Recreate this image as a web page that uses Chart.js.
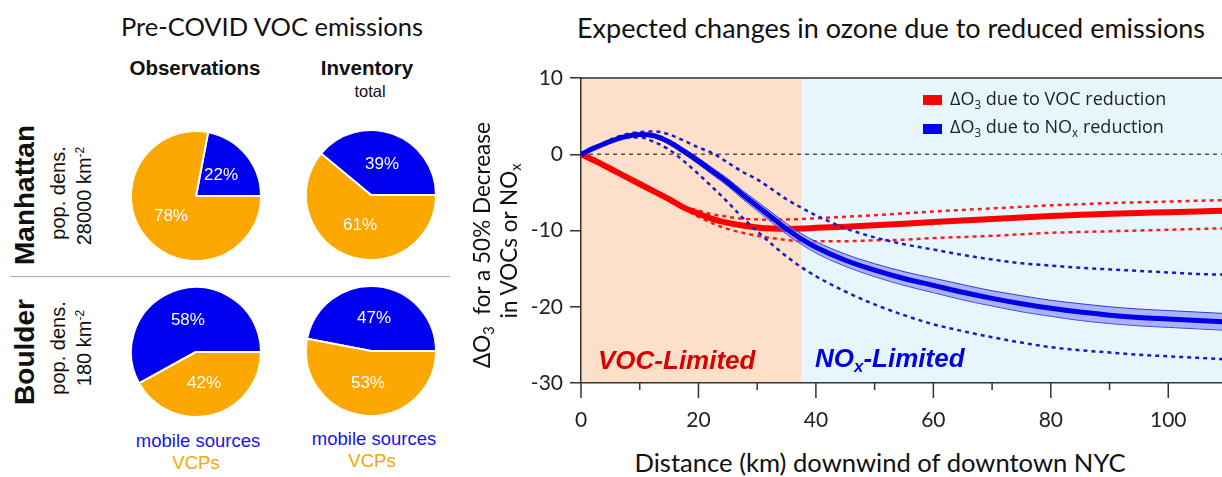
<!DOCTYPE html>
<html>
<head>
<meta charset="utf-8">
<script src="https://cdn.jsdelivr.net/npm/chart.js@4.4.1/dist/chart.umd.min.js"></script>
<style>
  body { margin: 0; width: 1222px; height: 477px; overflow: hidden; background: #fff; position: relative;
         font-family: "Liberation Sans", Arial, sans-serif; color: #111; }
  .t { position: absolute; white-space: nowrap; line-height: 1; transform: translate(-50%, -50%); }
  .r { position: absolute; white-space: nowrap; line-height: 1; transform: translate(-50%, -50%) rotate(-90deg); }
  .l { position: absolute; white-space: nowrap; line-height: 1; transform: translateY(-50%); }
  .title { font-family: Lato, sans-serif; color: #111; }
  canvas { position: absolute; }
  sub { font-size: 65%; vertical-align: -0.3em; }
  sup { font-size: 60%; vertical-align: 0.6em; }
</style>
</head>
<body>

<div class="t title" style="left:272px; top:27px; font-size:25.5px;">Pre-COVID VOC emissions</div>
<div class="t title" style="left:891px; top:27px; font-size:27px;">Expected changes in ozone due to reduced emissions</div>

<div class="t" style="left:195px; top:68px; font-weight:bold; font-size:20.5px;">Observations</div>
<div class="t" style="left:367px; top:68px; font-weight:bold; font-size:20.5px;">Inventory</div>
<div class="t" style="left:370px; top:91px; font-size:16.5px;">total</div>

<div class="r" style="left:25px; top:195px; font-weight:bold; font-size:28px;">Manhattan</div>
<div class="r" style="left:58px; top:193px; font-size:20px;">pop. dens.</div>
<div class="r" style="left:84px; top:196px; font-size:20px;">28000 km<sup>-2</sup></div>
<div class="r" style="left:25px; top:352px; font-weight:bold; font-size:28px;">Boulder</div>
<div class="r" style="left:58px; top:348px; font-size:20px;">pop. dens.</div>
<div class="r" style="left:84px; top:348px; font-size:20px;">180 km<sup>-2</sup></div>

<div style="position:absolute; left:10px; top:276px; width:440px; border-top:1.5px solid #aaa;"></div>

<div class="t" style="left:198px; top:441px; font-size:18.5px; color:#1414f0;">mobile sources</div>
<div class="t" style="left:196px; top:463px; font-size:18.5px; color:#f5a800;">VCPs</div>
<div class="t" style="left:374px; top:439px; font-size:18.5px; color:#1414f0;">mobile sources</div>
<div class="t" style="left:372px; top:461px; font-size:18.5px; color:#f5a800;">VCPs</div>

<canvas id="pie0" width="132" height="132" style="left:130px; top:130px;"></canvas>
<canvas id="pie1" width="132" height="132" style="left:305px; top:129px;"></canvas>
<canvas id="pie2" width="132" height="132" style="left:130px; top:286px;"></canvas>
<canvas id="pie3" width="132" height="132" style="left:305px; top:285px;"></canvas>

<canvas id="ozone" width="757" height="373" style="left:470px; top:60px;"></canvas>

<div class="r" style="left:484px; top:245px; font-family:Lato, sans-serif; font-size:22.5px;">&Delta;O<sub>3</sub> &nbsp;for a 50% Decrease</div>
<div class="r" style="left:511px; top:241px; font-family:Lato, sans-serif; font-size:22.5px;">in VOCs or NO<sub>x</sub></div>
<div class="t" style="left:880px; top:463px; font-family:Lato, sans-serif; font-size:25.6px;">Distance (km) downwind of downtown NYC</div>

<div style="position:absolute; left:923px; top:95px; width:19px; height:10px; background:#ff0000;"></div>
<div class="l" style="left:950px; top:100px; font-family:'Open Sans', sans-serif; font-size:18px; color:#222;">&Delta;O<sub>3</sub> due to VOC reduction</div>
<div style="position:absolute; left:923px; top:124px; width:19px; height:10px; background:#0000f0;"></div>
<div class="l" style="left:950px; top:128px; font-family:'Open Sans', sans-serif; font-size:18px; color:#222;">&Delta;O<sub>3</sub> due to NO<sub>x</sub> reduction</div>

<div class="l" style="left:598px; top:360px; font-weight:bold; font-style:italic; font-size:26px; color:#d80000;">VOC-Limited</div>
<div class="l" style="left:815px; top:360px; font-weight:bold; font-style:italic; font-size:26px; color:#0000e0;">NO<sub>x</sub>-Limited</div>

<script>
// pie panels: Manhattan obs, Manhattan inventory, Boulder obs, Boulder inventory
const PIE_LABELS = ['mobile sources', 'VCPs'];
const MOBILE_PCT = [22, 39, 58, 47];
const VCP_PCT = [78, 61, 42, 53];

// ozone response vs distance downwind (km)
const DIST = [0, 2.5, 5, 7.5, 10, 12.5, 15, 17.5, 20, 22.5, 25, 27.5, 30, 32.5, 35, 37.5,
              40, 45, 50, 55, 60, 65, 70, 75, 80, 85, 90, 95, 100, 105, 110];
const VOC_MID = [0, -0.9, -1.9, -2.9, -3.9, -4.9, -5.9, -7.0, -7.8, -8.5, -9.0, -9.35, -9.6, -9.75, -9.8, -9.75,
                 -9.65, -9.5, -9.3, -9.1, -8.9, -8.7, -8.5, -8.3, -8.1, -7.95, -7.8, -7.7, -7.6, -7.5, -7.4];
const VOC_HIGH = [null, null, null, null, null, null, -5.9, -6.8, -7.4, -7.9, -8.2, -8.45, -8.55, -8.6, -8.55, -8.5,
                  -8.4, -8.2, -8.0, -7.75, -7.5, -7.3, -7.1, -6.9, -6.7, -6.55, -6.4, -6.3, -6.2, -6.1, -6.0];
const VOC_LOW = [null, null, null, null, null, null, -5.9, -7.1, -8.2, -9.1, -9.8, -10.3, -10.7, -11.0, -11.25, -11.4,
                 -11.4, -11.4, -11.3, -11.2, -11.0, -10.85, -10.7, -10.5, -10.3, -10.2, -10.1, -10.0, -9.9, -9.8, -9.7];
const NOX_MID = [0, 0.9, 1.7, 2.3, 2.6, 2.4, 1.6, 0.4, -0.9, -2.3, -3.7, -5.3, -6.8, -8.3, -9.8, -11.1,
                 -12.2, -13.9, -15.2, -16.3, -17.2, -18.1, -18.9, -19.6, -20.2, -20.7, -21.1, -21.4, -21.6, -21.8, -22.0];
const NOX_BAND_HI = [0, 0.95, 1.8, 2.45, 2.8, 2.65, 1.9, 0.75, -0.5, -1.85, -3.2, -4.75, -6.2, -7.65, -9.1, -10.4,
                     -11.45, -13.1, -14.35, -15.4, -16.25, -17.1, -17.9, -18.55, -19.15, -19.6, -20.0, -20.3, -20.5, -20.7, -20.9];
const NOX_BAND_LO = [0, 0.85, 1.6, 2.15, 2.4, 2.15, 1.3, 0.05, -1.3, -2.75, -4.2, -5.85, -7.4, -8.95, -10.5, -11.8,
                     -12.95, -14.7, -16.05, -17.2, -18.15, -19.1, -19.9, -20.65, -21.25, -21.8, -22.2, -22.5, -22.7, -22.9, -23.1];
const NOX_HIGH = [0, 1.0, 1.9, 2.6, 2.9, 3.0, 2.6, 1.8, 0.9, 0.1, -1.1, -2.3, -3.3, -4.6, -5.9, -7.0,
                  -8.0, -9.7, -10.9, -11.8, -12.5, -13.2, -13.8, -14.3, -14.6, -14.9, -15.1, -15.3, -15.5, -15.7, -15.8];
const NOX_LOW = [0, 0.9, 1.6, 2.2, 2.2, 1.6, 0.6, -0.9, -2.6, -4.4, -6.3, -8.3, -10.1, -11.8, -13.4, -14.8,
                 -16.0, -18.0, -19.7, -21.1, -22.3, -23.2, -24.0, -24.7, -25.3, -25.7, -26.0, -26.3, -26.5, -26.7, -26.9];
const REGIME_SPLIT = 37.6; // km, VOC-limited / NOx-limited boundary
const Y_TICKS = [-30, -20, -10, 0, 10];

const BLUE = '#0000f0';
const ORANGE = '#fca800';

// percent labels inside the slices
const pctLabels = {
    id: 'pctLabels',
    afterDatasetsDraw(chart) {
        const ctx = chart.ctx;
        const meta = chart.getDatasetMeta(0);
        ctx.save();
        ctx.fillStyle = '#fff';
        ctx.font = '17px "Liberation Sans", Arial, sans-serif';
        ctx.textAlign = 'center';
        ctx.textBaseline = 'middle';
        meta.data.forEach((arc, i) => {
            const p = arc.tooltipPosition();
            ctx.fillText(chart.data.datasets[0].data[i] + '%', p.x, p.y);
        });
        ctx.restore();
    }
};

MOBILE_PCT.forEach((m, i) => {
    new Chart(document.getElementById('pie' + i), {
        type: 'pie',
        data: {
            labels: PIE_LABELS,
            datasets: [{
                data: [m, VCP_PCT[i]],
                backgroundColor: [BLUE, ORANGE],
                borderColor: '#fff',
                borderWidth: 2
            }]
        },
        options: {
            responsive: false,
            animation: false,
            rotation: 90 - 3.6 * m,
            plugins: { legend: { display: false }, tooltip: { enabled: false } }
        },
        plugins: [pctLabels]
    });
});

const pts = arr => DIST.map((d, i) => ({ x: d, y: arr[i] }));

const panel = {
    id: 'panel',
    beforeDraw(chart) {
        const { ctx, chartArea: a, scales: { x } } = chart;
        const split = x.getPixelForValue(REGIME_SPLIT);
        ctx.save();
        ctx.fillStyle = '#fddfca';
        ctx.fillRect(a.left, a.top, split - a.left, a.bottom - a.top);
        ctx.fillStyle = '#e7f6fd';
        ctx.fillRect(split, a.top, a.right - split, a.bottom - a.top);
        ctx.restore();
    },
    beforeDatasetsDraw(chart) {
        const { ctx, chartArea: a, scales: { y } } = chart;
        const y0 = y.getPixelForValue(0);
        ctx.save();
        ctx.strokeStyle = '#555';
        ctx.lineWidth = 1.5;
        ctx.setLineDash([4, 4]);
        ctx.beginPath();
        ctx.moveTo(a.left, y0);
        ctx.lineTo(a.right, y0);
        ctx.stroke();
        ctx.restore();
    },
    afterDraw(chart) {
        const { ctx, chartArea: a, scales: { x } } = chart;
        ctx.save();
        ctx.strokeStyle = '#333';
        ctx.lineWidth = 1.5;
        ctx.beginPath();
        ctx.moveTo(a.left, a.top);
        ctx.lineTo(a.right, a.top);
        x.ticks.forEach(t => {
            const px = x.getPixelForValue(t.value);
            ctx.moveTo(px, a.bottom);
            ctx.lineTo(px, a.bottom + (t.value % 20 === 0 ? 15 : 7));
        });
        ctx.stroke();
        ctx.restore();
    }
};

const line = (data, color, width, dash, order) => ({
    data: pts(data), borderColor: color, borderWidth: width, borderDash: dash,
    pointRadius: 0, fill: false, order: order, cubicInterpolationMode: 'monotone', spanGaps: false
});

new Chart(document.getElementById('ozone'), {
    type: 'line',
    data: {
        datasets: [
            line(NOX_MID, '#0000e8', 5, [], 0),
            Object.assign(line(NOX_BAND_HI, '#3a3ac8', 1, [], 1), { fill: '+1', backgroundColor: 'rgba(120,120,255,0.55)' }),
            line(NOX_BAND_LO, '#3a3ac8', 1, [], 1),
            line(NOX_HIGH, '#1c1cc0', 2.5, [4, 4], 2),
            line(NOX_LOW, '#1c1cc0', 2.5, [4, 4], 2),
            line(VOC_MID, '#ff0000', 6, [], 3),
            line(VOC_HIGH, '#ff1a1a', 2.5, [4, 4], 4),
            line(VOC_LOW, '#ff1a1a', 2.5, [4, 4], 4)
        ]
    },
    options: {
        responsive: false,
        animation: false,
        layout: { padding: { top: 18, left: 0, right: 0, bottom: 0 } },
        plugins: { legend: { display: false }, tooltip: { enabled: false } },
        scales: {
            x: {
                type: 'linear', min: 0, max: 110,
                afterFit: s => { s.height = 50; s.paddingLeft = 0; s.paddingRight = 0; },
                border: { display: true, color: '#333', width: 1.5 },
                grid: { drawOnChartArea: false, drawTicks: false },
                ticks: {
                    stepSize: 10, autoSkip: false, maxRotation: 0, padding: 25, color: '#222',
                    font: { family: 'Lato, sans-serif', size: 21 },
                    callback: v => (v % 20 === 0 ? v : '')
                }
            },
            y: {
                min: -30, max: 10,
                afterFit: s => { s.width = 111; s.paddingTop = 0; s.paddingBottom = 0; },
                afterBuildTicks: s => { s.ticks = Y_TICKS.map(v => ({ value: v })); },
                border: { display: true, color: '#333', width: 1.5 },
                grid: { drawOnChartArea: false, drawTicks: true, tickLength: 11, color: '#333', lineWidth: 1.5 },
                ticks: { padding: 7, color: '#222', font: { family: 'Lato, sans-serif', size: 21 } }
            }
        }
    },
    plugins: [panel]
});
</script>
</body>
</html>
